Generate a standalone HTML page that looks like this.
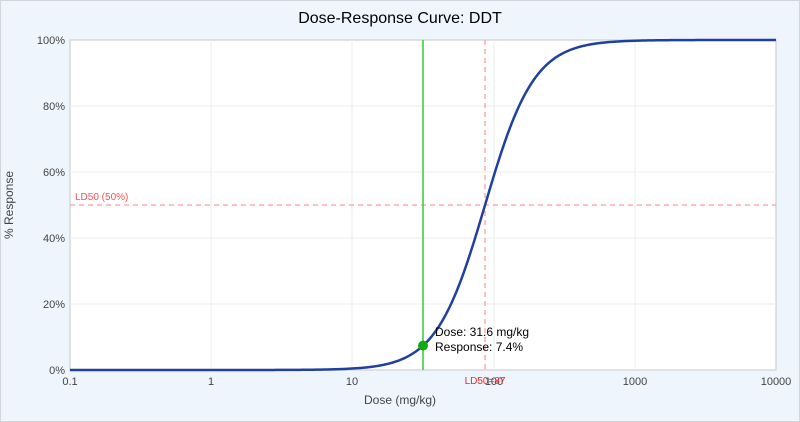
<!DOCTYPE html>
<html><head><meta charset="utf-8"><style>
html,body{margin:0;padding:0;background:#fff}
svg{display:block;font-family:"Liberation Sans",Arial,sans-serif}
</style></head><body>
<svg id="s" width="800" height="422" viewBox="0 0 800 422">
<rect x="0.5" y="0.5" width="799" height="421" fill="#eef5fd" stroke="#d0d6dc"/>
<rect x="70" y="40" width="706" height="330" fill="#fff" stroke="#d6d9dc" stroke-width="1.5"/>
<g stroke="#eeeeee" stroke-width="1">
<line x1="211" y1="40" x2="211" y2="370"/><line x1="352" y1="40" x2="352" y2="370"/>
<line x1="494" y1="40" x2="494" y2="370"/><line x1="635" y1="40" x2="635" y2="370"/>
<line x1="70" y1="106" x2="776" y2="106"/><line x1="70" y1="172" x2="776" y2="172"/>
<line x1="70" y1="238" x2="776" y2="238"/><line x1="70" y1="304" x2="776" y2="304"/>
</g>
<text x="400" y="23" text-anchor="middle" font-size="16" fill="#000">Dose-Response Curve: DDT</text>
<g font-size="11" fill="#444" text-anchor="end">
<text x="65" y="44">100%</text><text x="65" y="110">80%</text><text x="65" y="176">60%</text>
<text x="65" y="242">40%</text><text x="65" y="308">20%</text><text x="65" y="374">0%</text>
</g>
<g font-size="11" fill="#444" text-anchor="middle">
<text x="70" y="385">0.1</text><text x="211" y="385">1</text><text x="352" y="385">10</text>
<text x="494" y="385">100</text><text x="635" y="385">1000</text><text x="776" y="385">10000</text>
</g>
<text x="400" y="404" text-anchor="middle" font-size="12" fill="#444">Dose (mg/kg)</text>
<text transform="translate(13,205) rotate(-90)" text-anchor="middle" font-size="12" fill="#444">% Response</text>
<line x1="70" y1="205" x2="776" y2="205" stroke="#ff8080" stroke-dasharray="5,4"/>
<line x1="485" y1="40" x2="485" y2="370" stroke="#ff8080" stroke-dasharray="5,4"/>
<text x="75" y="200" font-size="10" fill="#ff5050">LD50 (50%)</text>
<text x="485" y="384" font-size="10" fill="#ff2020" text-anchor="middle">LD50=87</text>
<line x1="423" y1="40" x2="423" y2="370" stroke="#33cc33" stroke-width="1.5"/>
<path id="c" fill="none" stroke="#2040a0" stroke-width="2.5"/>
<circle cx="423" cy="345.6" r="5" fill="#11aa11"/>
<text x="435" y="336" font-size="12" fill="#000">Dose: 31.6 mg/kg</text>
<text x="435" y="351" font-size="12" fill="#000">Response: 7.4%</text>
</svg>
<script>
var d="";for(var i=0;i<=706;i+=2){var lg=-1+i/141.2;var x=Math.pow(10,lg);var r=1/(1+Math.pow(87/x,2.5));d+=(i?"L":"M")+(70+i)+","+(370-330*r).toFixed(2);}
document.getElementById("c").setAttribute("d",d);
</script>
</body></html>
